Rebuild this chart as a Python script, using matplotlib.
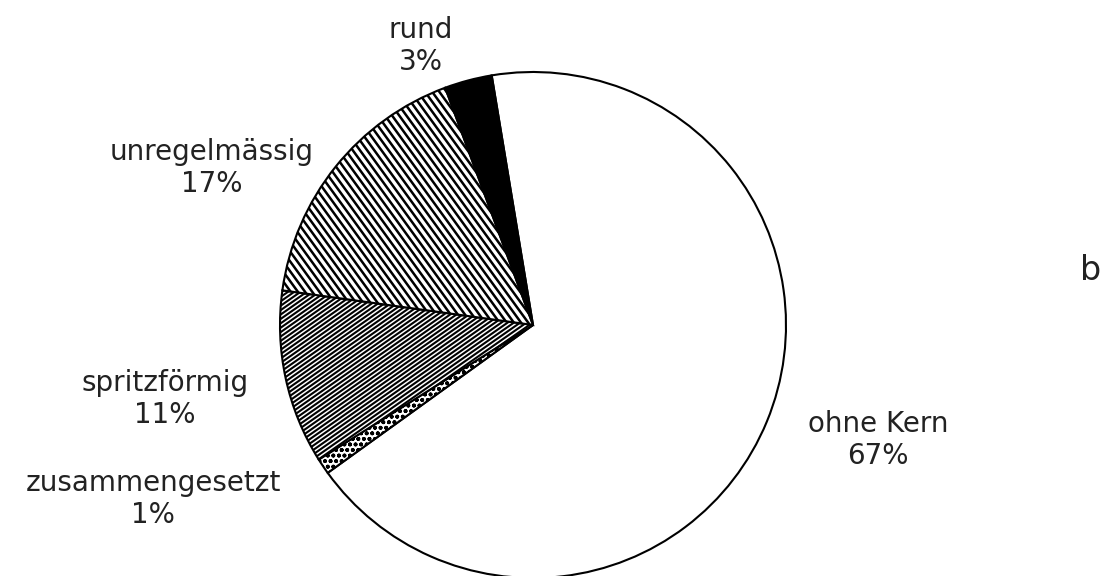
import numpy as np
import matplotlib
matplotlib.use('Agg')
import matplotlib.pyplot as plt
from matplotlib.collections import LineCollection

plt.rcParams['font.family'] = ['DejaVu Sans']
plt.rcParams['hatch.linewidth'] = 1.2

# data (clockwise from the top)
categories = ['ohne Kern', 'zusammengesetzt', 'spritzförmig', 'unregelmässig', 'rund']
values = [67, 1, 11, 17, 3]
labels = ['ohne Kern\n67%', 'zusammengesetzt\n1%', 'spritzförmig\n11%', 'unregelmässig\n17%', 'rund\n3%']

W, H = 1107, 576
fig = plt.figure(figsize=(W / 100, H / 100), dpi=100)
ax = fig.add_axes([0, 0, 1, 1])

cx, cy, r = 533, H - 325, 253
wedges, _ = ax.pie(values, center=(cx, cy), radius=r, startangle=99.4, counterclock=False,
                   colors=['white', 'white', 'white', 'white', 'black'],
                   wedgeprops=dict(edgecolor='black', linewidth=1.5))
ax.set_xlim(0, W)
ax.set_ylim(0, H)
ax.set_aspect('equal')
ax.axis('off')


def line_hatch(patch, angle, spacing, lw=1.4):
    # parallel lines across the pie, clipped to the wedge
    a = np.deg2rad(angle)
    d = np.array([np.cos(a), np.sin(a)])
    n = np.array([-d[1], d[0]])
    segs = []
    for k in np.arange(-r * 1.5, r * 1.5, spacing):
        p = np.array([cx, cy]) + n * k
        segs.append([p - d * r * 1.5, p + d * r * 1.5])
    lc = LineCollection(segs, colors='black', linewidths=lw, zorder=1.5)
    ax.add_collection(lc)
    lc.set_clip_path(patch)


line_hatch(wedges[2], 35, 3.6, 1.5)     # spritzförmig
line_hatch(wedges[3], -54, 5.8, 1.8)    # unregelmässig
wedges[1].set_hatch('ooo')              # zusammengesetzt

fs = 20
txt = dict(fontsize=fs, ha='center', va='center', linespacing=1.2, color='#222222')
ax.text(878, H - 440, labels[0], **txt)
ax.text(153, H - 499, labels[1], **txt)
ax.text(165, H - 399, labels[2], **txt)
ax.text(212, H - 168, labels[3], **txt)
ax.text(421, H - 46, labels[4], **txt)
ax.text(1091, H - 280, 'b', fontsize=24, ha='center', va='baseline', color='#222222')

plt.savefig('out.png', dpi=100)
